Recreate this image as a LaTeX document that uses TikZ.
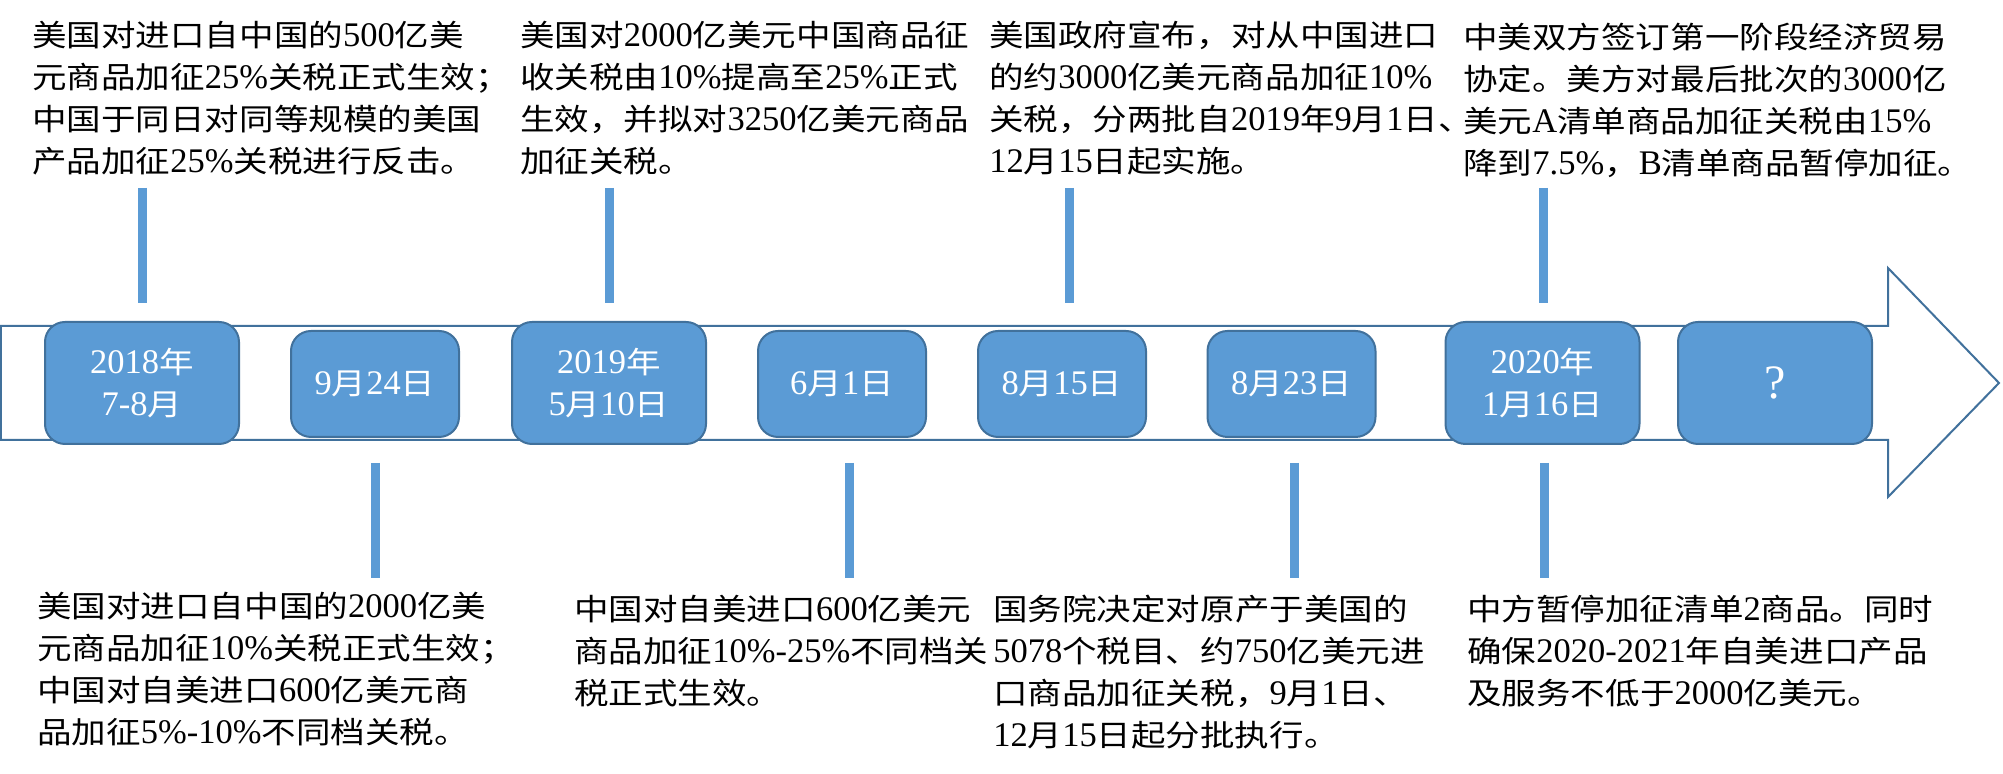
\documentclass[tikz,border=0pt]{standalone}
\usepackage{fontspec}
\setmainfont{Liberation Serif}
\newfontfamily\cjkfont{Noto Sans CJK SC}[Scale=0.87,FakeStretch=1.15]
\usepackage{tikz}

% CJK characters switch to the CJK font by themselves
\XeTeXinterchartokenstate=1
\newcount\cjkcode
\newcommand{\cjkrange}[2]{\cjkcode=#1 \loop\XeTeXcharclass\cjkcode=5 \ifnum\cjkcode<#2 \advance\cjkcode by 1 \repeat}
\cjkrange{"3000}{"303F}
\cjkrange{"4E00}{"9FFF}
\cjkrange{"FF00}{"FFEF}
\XeTeXinterchartoks 0 5 = {\cjkfont}
\XeTeXinterchartoks 4095 5 = {\cjkfont}
\XeTeXinterchartoks 5 0 = {\rmfamily}
\XeTeXinterchartoks 4095 0 = {\rmfamily}

\definecolor{boxfill}{HTML}{5B9BD5}
\definecolor{boxedge}{HTML}{41719C}
\newcommand{\notefont}{\fontsize{17.25pt}{21pt}\selectfont}
\newcommand{\linestrut}{\rule{0pt}{15pt}}

\begin{document}
\begin{tikzpicture}[x=50pt,y=50pt,
	datebox/.style={draw=boxedge,line width=1pt,fill=boxfill,rounded corners=10pt,text=white,font=\notefont,align=center,inner sep=0pt,minimum width=84pt,minimum height=53pt},
	widebox/.style={datebox,minimum width=97pt,minimum height=61pt},
	note/.style={anchor=north west,align=left,inner sep=0pt,font=\notefont},
	bar/.style={boxfill,line width=4.5pt}]
	% size of the page
	\useasboundingbox (0,0) rectangle (20.03,7.74);
	% the big arrow
	\draw[boxedge,line width=1pt,fill=white] (0.01,4.48) -- (18.88,4.48) -- (18.88,5.06) -- (19.99,3.91) -- (18.88,2.77) -- (18.88,3.34) -- (0.01,3.34) -- cycle;
	% dates on the arrow
	\node[widebox] (d1) at (1.42,3.91) {2018年\\7-8月};
	\node[datebox] (d2) at (3.75,3.90) {9月24日};
	\node[widebox] (d3) at (6.09,3.91) {2019年\\5月10日};
	\node[datebox] (d4) at (8.42,3.90) {6月1日};
	\node[datebox] (d5) at (10.62,3.90) {8月15日};
	\node[datebox] (d6) at (12.915,3.90) {8月23日};
	\node[widebox] (d7) at (15.425,3.91) {2020年\\1月16日};
	\node[widebox,font=\fontsize{24pt}{28pt}\selectfont] (d8) at (17.75,3.91) {?};
	% bars above and below the arrow
	\foreach \x in {1.425,6.095,10.695,15.435}
		\draw[bar] (\x,5.86) -- (\x,4.71);
	\foreach \x in {3.755,8.495,12.945,15.445}
		\draw[bar] (\x,3.11) -- (\x,1.96);
	% events above
	\node[note] (t1) at (0.32,7.58) {\linestrut 美国对进口自中国的500亿美\\元商品加征25\%关税正式生效；\\中国于同日对同等规模的美国\\产品加征25\%关税进行反击。};
	\node[note] (t2) at (5.20,7.58) {\linestrut 美国对2000亿美元中国商品征\\收关税由10\%提高至25\%正式\\生效，并拟对3250亿美元商品\\加征关税。};
	\node[note] (t3) at (9.89,7.58) {\linestrut 美国政府宣布，对从中国进口\\的约3000亿美元商品加征10\%\\关税，分两批自2019年9月1日、\\12月15日起实施。};
	\node[note] (t4) at (14.63,7.56) {\linestrut 中美双方签订第一阶段经济贸易\\协定。美方对最后批次的3000亿\\美元A清单商品加征关税由15\%\\降到7.5\%，B清单商品暂停加征。};
	% events below
	\node[note] (b1) at (0.37,1.87) {\linestrut 美国对进口自中国的2000亿美\\元商品加征10\%关税正式生效；\\中国对自美进口600亿美元商\\品加征5\%-10\%不同档关税。};
	\node[note] (b2) at (5.74,1.84) {\linestrut 中国对自美进口600亿美元\\商品加征10\%-25\%不同档关\\税正式生效。};
	\node[note] (b3) at (9.93,1.84) {\linestrut 国务院决定对原产于美国的\\5078个税目、约750亿美元进\\口商品加征关税，9月1日、\\12月15日起分批执行。};
	\node[note] (b4) at (14.67,1.84) {\linestrut 中方暂停加征清单2商品。同时\\确保2020-2021年自美进口产品\\及服务不低于2000亿美元。};
\end{tikzpicture}
\end{document}
